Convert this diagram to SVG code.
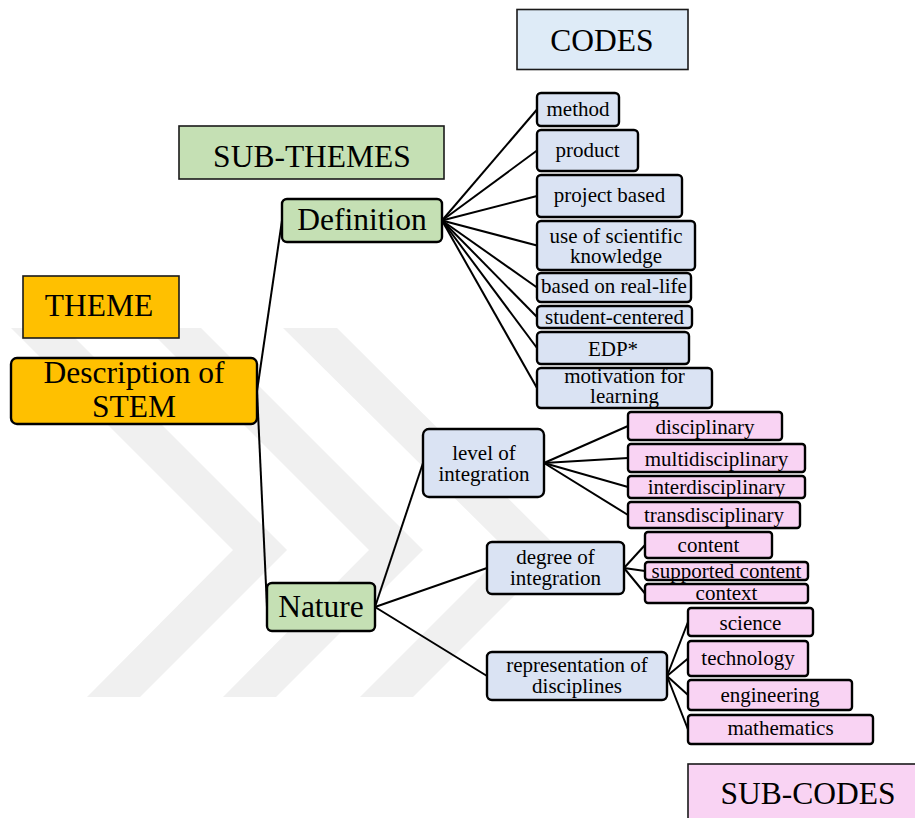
<svg xmlns="http://www.w3.org/2000/svg" width="915" height="818" viewBox="0 0 915 818" font-family="'Liberation Serif', 'DejaVu Serif', serif">
  <style>
    text { font-family: "Liberation Serif", "DejaVu Serif", serif; fill: #000; text-anchor: middle; }
    .big { font-size: 31.5px; }
    .sm { font-size: 21px; }
    .key { stroke: #1a1a1a; stroke-width: 1.6; }
    .box { stroke: #000; stroke-width: 2.4; }
    .theme { fill: #ffc000; }
    .sub { fill: #c5e0b4; }
    .code { fill: #dae3f3; }
    .subcode { fill: #f9d3f3; }
    .codekey { fill: #deebf7; }
    #connectors line { stroke: #000; stroke-width: 2; }
    .wm { fill: #f0f0f0; }
  </style>

  <rect width="915" height="818" fill="#fff"/>

  <!-- faint background emblem -->
  <g id="emblem">
    <polygon class="wm" points="11,328 65,328 287,550 140,697 87,697 233,550"/>
    <polygon class="wm" points="147,328 201,328 423,550 276,697 223,697 369,550"/>
    <polygon class="wm" points="283,328 337,328 560,550 413,697 360,697 507,550"/>
  </g>

  <!-- legend labels -->
  <g id="key-codes"><rect class="key codekey" x="517" y="9.5" width="171" height="60"/><text class="big" x="602" y="51" font-family="'Liberation Serif', 'DejaVu Serif', serif">CODES</text></g>
  <g id="key-subthemes"><rect class="key sub" x="179" y="126" width="265" height="53"/><text class="big" x="312" y="167">SUB-THEMES</text></g>
  <g id="key-theme"><rect class="key theme" x="23" y="276" width="156" height="62"/><text class="big" x="99" y="316">THEME</text></g>
  <g id="key-subcodes"><rect class="key subcode" x="688" y="764" width="240" height="70"/><text class="big" x="808" y="804">SUB-CODES</text></g>

  <!-- connectors -->
  <g id="connectors">
    <line x1="257" y1="391" x2="282" y2="220.5"/>
    <line x1="257" y1="391" x2="267" y2="607"/>
    <line x1="442" y1="220.5" x2="537" y2="109.5"/>
    <line x1="442" y1="220.5" x2="537" y2="150.5"/>
    <line x1="442" y1="220.5" x2="537" y2="196"/>
    <line x1="442" y1="220.5" x2="537" y2="245.5"/>
    <line x1="442" y1="220.5" x2="537" y2="287.5"/>
    <line x1="442" y1="220.5" x2="537" y2="317"/>
    <line x1="442" y1="220.5" x2="537" y2="348"/>
    <line x1="442" y1="220.5" x2="537" y2="388"/>
    <line x1="375" y1="607" x2="423" y2="463"/>
    <line x1="375" y1="607" x2="487" y2="568"/>
    <line x1="375" y1="607" x2="487" y2="676"/>
    <line x1="544" y1="463" x2="628" y2="426"/>
    <line x1="544" y1="463" x2="628" y2="458"/>
    <line x1="544" y1="463" x2="628" y2="487"/>
    <line x1="544" y1="463" x2="628" y2="515"/>
    <line x1="624" y1="568" x2="645" y2="545"/>
    <line x1="624" y1="568" x2="645" y2="571"/>
    <line x1="624" y1="568" x2="645" y2="593.5"/>
    <line x1="667" y1="676" x2="688" y2="622"/>
    <line x1="667" y1="676" x2="688" y2="658.5"/>
    <line x1="667" y1="676" x2="688" y2="695"/>
    <line x1="667" y1="676" x2="688" y2="729.5"/>
  </g>

  <!-- theme -->
  <g id="description-of-stem"><rect class="box theme" x="11" y="358" width="246" height="66" rx="6"/><text class="big" x="134" y="383">Description of</text><text class="big" x="134" y="417">STEM</text></g>

  <!-- sub-themes -->
  <g id="definition"><rect class="box sub" x="282" y="199" width="160" height="43" rx="5"/><text class="big" x="362" y="230">Definition</text></g>
  <g id="nature"><rect class="box sub" x="267" y="583" width="108" height="48" rx="5"/><text class="big" x="321" y="617">Nature</text></g>

  <!-- codes of Definition -->
  <g id="method"><rect class="box code" x="537" y="93" width="82" height="33" rx="4"/><text class="sm" x="578" y="116">method</text></g>
  <g id="product"><rect class="box code" x="537" y="130" width="101" height="41" rx="4"/><text class="sm" x="587.5" y="157">product</text></g>
  <g id="project-based"><rect class="box code" x="537" y="175" width="145" height="42" rx="4"/><text class="sm" x="609.5" y="202">project based</text></g>
  <g id="use-of-scientific-knowledge"><rect class="box code" x="537" y="221" width="158" height="49" rx="4"/><text class="sm" x="616" y="243">use of scientific</text><text class="sm" x="616" y="263">knowledge</text></g>
  <g id="based-on-real-life"><rect class="box code" x="537" y="273" width="154" height="29" rx="4"/><text class="sm" x="614" y="293">based on real-life</text></g>
  <g id="student-centered"><rect class="box code" x="537" y="306" width="155" height="22" rx="4"/><text class="sm" x="614.5" y="323.5">student-centered</text></g>
  <g id="edp"><rect class="box code" x="537" y="332" width="152" height="32" rx="4"/><text class="sm" x="613" y="356">EDP*</text></g>
  <g id="motivation-for-learning"><rect class="box code" x="537" y="368" width="175" height="40" rx="4"/><text class="sm" x="624.5" y="383">motivation for</text><text class="sm" x="624.5" y="403">learning</text></g>

  <!-- codes of Nature -->
  <g id="level-of-integration"><rect class="box code" x="423" y="429" width="121" height="68" rx="6"/><text class="sm" x="484" y="460">level of</text><text class="sm" x="484" y="481">integration</text></g>
  <g id="degree-of-integration"><rect class="box code" x="487" y="542" width="137" height="52" rx="5"/><text class="sm" x="555.5" y="564">degree of</text><text class="sm" x="555.5" y="584.5">integration</text></g>
  <g id="representation-of-disciplines"><rect class="box code" x="487" y="652" width="180" height="48" rx="5"/><text class="sm" x="577" y="672">representation of</text><text class="sm" x="577" y="693">disciplines</text></g>

  <!-- sub-codes -->
  <g id="disciplinary"><rect class="box subcode" x="628" y="412" width="154" height="28" rx="3"/><text class="sm" x="705" y="433.5">disciplinary</text></g>
  <g id="multidisciplinary"><rect class="box subcode" x="628" y="444" width="177" height="28" rx="3"/><text class="sm" x="716.5" y="466">multidisciplinary</text></g>
  <g id="interdisciplinary"><rect class="box subcode" x="628" y="476" width="177" height="22" rx="3"/><text class="sm" x="716.5" y="494">interdisciplinary</text></g>
  <g id="transdisciplinary"><rect class="box subcode" x="628" y="502" width="172" height="26" rx="3"/><text class="sm" x="714" y="522">transdisciplinary</text></g>
  <g id="content"><rect class="box subcode" x="645" y="532" width="127" height="26" rx="3"/><text class="sm" x="708.5" y="552">content</text></g>
  <g id="supported-content"><rect class="box subcode" x="645" y="562" width="163" height="18" rx="3"/><text class="sm" x="726.5" y="577.5">supported content</text></g>
  <g id="context"><rect class="box subcode" x="645" y="584" width="163" height="19" rx="3"/><text class="sm" x="726.5" y="600">context</text></g>
  <g id="science"><rect class="box subcode" x="688" y="608" width="125" height="28" rx="3"/><text class="sm" x="750.5" y="629.5">science</text></g>
  <g id="technology"><rect class="box subcode" x="688" y="641" width="120" height="35" rx="3"/><text class="sm" x="748" y="665">technology</text></g>
  <g id="engineering"><rect class="box subcode" x="688" y="680" width="164" height="30" rx="3"/><text class="sm" x="770" y="702">engineering</text></g>
  <g id="mathematics"><rect class="box subcode" x="688" y="715" width="185" height="29" rx="3"/><text class="sm" x="780.5" y="735">mathematics</text></g>
</svg>
